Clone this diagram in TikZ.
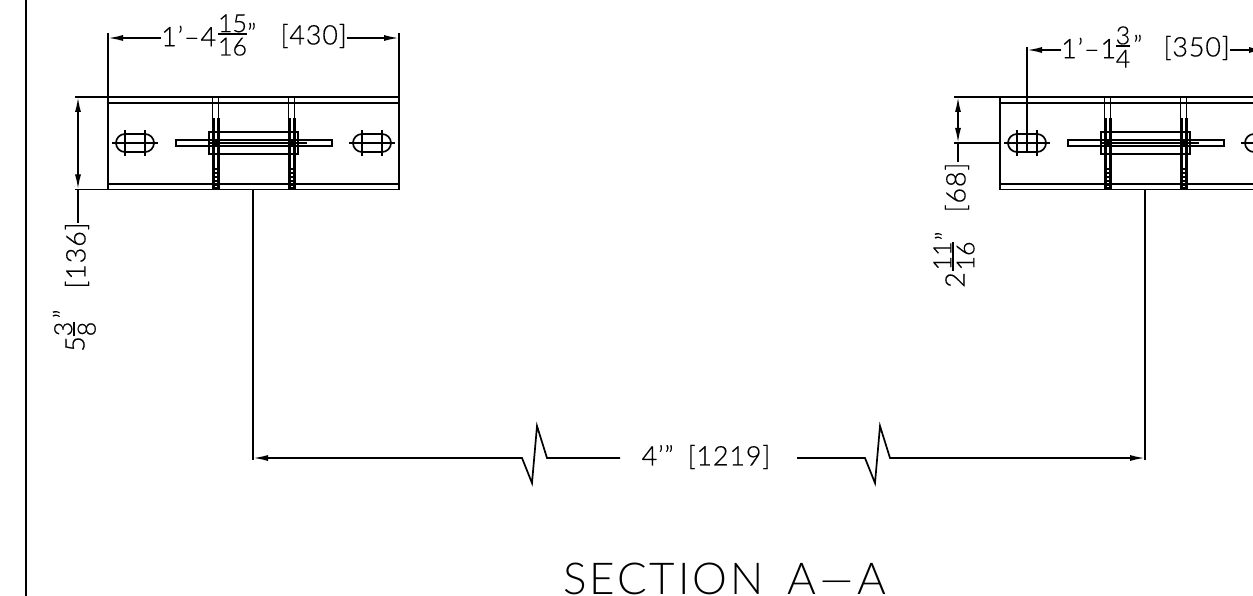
\documentclass[tikz,border=0pt]{standalone}
\usepackage{fontspec}
\setmainfont{Lato Light}
\usetikzlibrary{arrows.meta}
\newcommand\stk[2]{$\vcenter{\offinterlineskip\halign{\hfil##\hfil\cr\hbox{#1}\cr\noalign{\kern1pt}\noalign{\hrule height 1.4pt}\noalign{\kern3pt}\hbox{#2}\cr}}$}
\tikzset{
 ln/.style={line width=1.7pt,line join=miter,line cap=butt},
 dimtip/.style={-{Latex[length=15pt,width=6pt]}},
 bothtip/.style={{Latex[length=15pt,width=6pt]}-{Latex[length=15pt,width=6pt]}},
 dimtext/.style={inner sep=0pt,font=\fontsize{27}{27}\selectfont\addfontfeature{LetterSpace=3,FakeBold=0.4},text=black},
 fractext/.style={inner sep=0pt,font=\fontsize{25}{25}\selectfont\addfontfeature{FakeBold=0.4},text=black},
 plate/.pic={
  \draw[ln] (0,0) rectangle (291,92.5);
  \draw[ln] (0,6) -- (291,6);
  \draw[ln] (0,87) -- (291,87);
  \foreach \w in {104.5,180.5}{
   \draw[ln] (\w,0) -- (\w,93);
   \draw[ln] (\w+6,0) -- (\w+6,93);
   \draw[line width=3pt] (\w+.5,21) -- (\w+.5,93);
   \draw[line width=3pt] (\w+5.5,21) -- (\w+5.5,93);
   \foreach \r in {72,76,80,84,88,91}{\draw[ln] (\w,\r) -- (\w+6,\r);}
  }
  \draw[ln] (101,35) rectangle (190,57);
  \draw[ln] (68,43) rectangle (224,49);
  \draw[ln] (100,46) -- (199,46);
  \fill (104,42) rectangle (111,50);
  \fill (180,42) rectangle (187,50);
  \foreach \c in {27,264}{
   \draw[ln] (\c-10,37) -- (\c+10,37) arc[start angle=-90,end angle=90,radius=9] -- (\c-10,55) arc[start angle=90,end angle=270,radius=9] -- cycle;
   \draw[ln] (\c-23,46) -- (\c+23,46);
   \draw[ln] (\c-10,33) -- (\c-10,59);
   \draw[ln] (\c+10,33) -- (\c+10,59);
  }
 }
}
\begin{document}
\begin{tikzpicture}[x=1pt,y=-1pt]
\useasboundingbox (0,0) rectangle (1253,596);
\clip (0,0) rectangle (1253,596);
\fill[white] (0,0) rectangle (1253,596);
\coordinate (borderT) at (26,0);
\coordinate (borderB) at (26,596);
\draw[ln] (borderT) -- (borderB);

\pic at (108,97) {plate};
\pic at (1000,97) {plate};

% left plate, top dimension
\coordinate (LA) at (108,38);
\coordinate (LB) at (399,38);
\coordinate (LAb) at (108,97);
\coordinate (LBb) at (399,97);
\coordinate (LAt) at (108,33);
\coordinate (LBt) at (399,33);
\node[dimtext,anchor=west] (lt1) at (161,36) {1’–4};
\node[fractext,anchor=center] (lf1) at (232.5,35) {\stk{15}{16}};
\node[dimtext,anchor=west] (lq1) at (247,33) {”};
\node[dimtext,anchor=east] (lb1) at (347,36) {[430]};
\draw[ln] (LAt) -- (LAb);
\draw[ln] (LBt) -- (LBb);
\draw[ln,dimtip] (lt1.west |- LA) -- (LA);
\draw[ln,dimtip] (lb1.east |- LB) -- (LB);

% left plate, side dimension
\coordinate (L1) at (75,97);
\coordinate (L1b) at (108,97);
\coordinate (L2) at (75,189.5);
\coordinate (L2b) at (108,189.5);
\coordinate (Ld1) at (78,97);
\coordinate (Ld2) at (78,189.5);
\coordinate (Ld3) at (78,223);
\draw[ln] (L1) -- (L1b);
\draw[ln] (L2) -- (L2b);
\draw[ln,bothtip] (Ld1) -- (Ld2);
\node[dimtext,rotate=90,anchor=center] (lsb) at (77,255.5) {[136]};
\draw[ln] (Ld2) -- (Ld3);
\node[fractext,rotate=90,anchor=center] (lsf) at (75,329) {\stk{3}{8}};
\node[dimtext,rotate=90,anchor=center] (ls5) at (75,344) {5};
\node[dimtext,rotate=90,anchor=center] (lsq) at (63,314) {”};

% right plate, top dimension
\coordinate (RA) at (1027,50);
\coordinate (RB) at (1264,50);
\coordinate (RAt) at (1027,47);
\coordinate (RAb) at (1027,152);
\node[dimtext,anchor=west] (rt1) at (1061,48) {1’–1};
\node[fractext,anchor=center] (rf1) at (1123,47) {\stk{3}{4}};
\node[dimtext,anchor=west] (rq1) at (1133,45) {”};
\node[dimtext,anchor=east] (rb1) at (1230,48) {[350]};
\draw[ln] (RAt) -- (RAb);
\draw[ln,dimtip] (rt1.west |- RA) -- (RA);
\draw[ln,dimtip] (rb1.east |- RB) -- (RB);

% right plate, side dimension
\coordinate (R1) at (954,97);
\coordinate (R1b) at (1000,97);
\coordinate (R2) at (954,143);
\coordinate (R2b) at (1000,143);
\coordinate (Rd1) at (958,97);
\coordinate (Rd2) at (958,143);
\coordinate (Rd3) at (958,162);
\draw[ln] (R1) -- (R1b);
\draw[ln] (R2) -- (R2b);
\draw[ln,bothtip] (Rd1) -- (Rd2);
\node[dimtext,rotate=90,anchor=center] (rsb) at (957,187.5) {[68]};
\draw[ln] (Rd2) -- (Rd3);
\node[fractext,rotate=90,anchor=center] (rsf) at (954,256) {\stk{11}{16}};
\node[dimtext,rotate=90,anchor=center] (rs2) at (955,280) {2};
\node[dimtext,rotate=90,anchor=center] (rsq) at (945,236) {”};

% long dimension
\coordinate (S1t) at (253,190);
\coordinate (S1b) at (253,460);
\coordinate (S2t) at (1145,190);
\coordinate (S2b) at (1145,460);
\coordinate (D1) at (253,458);
\coordinate (D2) at (1145,458);
\draw[ln] (S1t) -- (S1b);
\draw[ln] (S2t) -- (S2b);
\node[dimtext,anchor=center] (dt) at (706,457) {4’”\hspace{14pt}[1219]};
\draw[ln,{Latex[length=15pt,width=6pt]}-] (D1) -- (522,458) -- (532,483) -- (537,426) -- (547,458) -- (620,458);
\draw[ln,-{Latex[length=15pt,width=6pt]}] (797,458) -- (865,458) -- (875,483) -- (880,426) -- (890,458) -- (D2);
\draw[line width=2.6pt] (454,458) -- (474,458);

% title
\node[inner sep=0pt,anchor=base,font=\fontsize{44}{44}\selectfont\addfontfeature{LetterSpace=6.5}] (ttl) at (724.5,594) {SECTION\hspace{24pt}A\scalebox{1.6}[1]{–}A};
\end{tikzpicture}
\end{document}
